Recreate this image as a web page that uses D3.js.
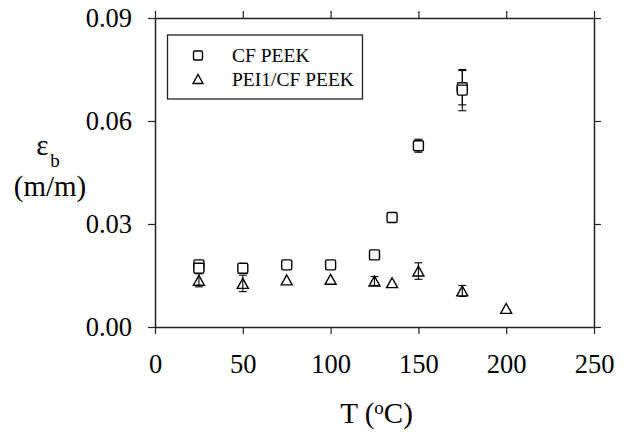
<!DOCTYPE html>
<html>
<head>
<meta charset="utf-8">
<script src="https://cdn.jsdelivr.net/npm/d3@7"></script>
<style>
  body { margin: 0; background: #fff; }
</style>
</head>
<body>
<div id="chart"></div>
<script>
// CF PEEK (squares)
const tempCF = [25, 25, 50, 75, 100, 125, 135, 150, 175, 175];
const strainCF = [0.0181, 0.0171, 0.0171, 0.0181, 0.0181, 0.0210, 0.0319, 0.0528, 0.0697, 0.0690];
const errCF = [0, 0, 0, 0, 0, 0, 0, 0.0019, 0.0050, 0.0060];

// PEI1/CF PEEK (triangles)
const tempPEI = [25, 50, 75, 100, 125, 135, 150, 175, 200];
const strainPEI = [0.0136, 0.0127, 0.0137, 0.0139, 0.0134, 0.0129, 0.0163, 0.0105, 0.0054];
const errPEI = [0.0019, 0.0024, 0, 0, 0.0013, 0, 0.0024, 0.0016, 0];

const xTicks = [0, 50, 100, 150, 200, 250];
const yTicks = [0, 0.03, 0.06, 0.09];
const seriesNames = ['CF PEEK', 'PEI1/CF PEEK'];

const W = 624, H = 433;
const margin = {left: 155, right: 30, top: 18, bottom: 106};
const serif = '"Liberation Serif", "Times New Roman", Times, serif';

const svg = d3.select('#chart').append('svg')
    .attr('width', W)
    .attr('height', H)
    .attr('font-family', serif);

const x = d3.scaleLinear().domain([0, 250]).range([margin.left, W - margin.right]);
const y = d3.scaleLinear().domain([0, 0.09]).range([H - margin.bottom, margin.top]);

const frameColor = '#222';

function styleAxis(g) {
  g.attr('font-family', serif);
  g.selectAll('path.domain').attr('stroke', frameColor).attr('stroke-width', 1.5);
  g.selectAll('.tick line').attr('stroke', frameColor).attr('stroke-width', 1.2);
  g.selectAll('text').attr('fill', '#000').style('font-size', '26.5px');
}

// bottom axis with labels
svg.append('g')
    .attr('transform', 'translate(0,' + y(0) + ')')
    .call(d3.axisBottom(x).tickValues(xTicks).tickSize(7).tickSizeOuter(0).tickPadding(20))
    .call(styleAxis);

// top axis, ticks only
svg.append('g')
    .attr('transform', 'translate(0,' + y(0.09) + ')')
    .call(d3.axisTop(x).tickValues(xTicks).tickSize(7).tickSizeOuter(0).tickFormat(''))
    .call(styleAxis);

// left axis with labels
svg.append('g')
    .attr('transform', 'translate(' + x(0) + ',0)')
    .call(d3.axisLeft(y).tickValues(yTicks).tickSize(7).tickSizeOuter(0).tickPadding(16)
        .tickFormat(d3.format('.2f')))
    .call(styleAxis);

// right axis, ticks only
svg.append('g')
    .attr('transform', 'translate(' + x(250) + ',0)')
    .call(d3.axisRight(y).tickValues(yTicks).tickSize(7).tickSizeOuter(0).tickFormat(''))
    .call(styleAxis);

// error bars
function errorBars(temps, vals, errs) {
  const capW = 4;
  const g = svg.append('g').attr('stroke', '#000').attr('stroke-width', 1.1).attr('fill', 'none');
  temps.forEach((t, i) => {
    if (!errs[i]) return;
    const cx = x(t);
    const y1 = y(vals[i] + errs[i]);
    const y2 = y(vals[i] - errs[i]);
    g.append('line').attr('x1', cx).attr('x2', cx).attr('y1', y1).attr('y2', y2);
    g.append('line').attr('x1', cx - capW).attr('x2', cx + capW).attr('y1', y1).attr('y2', y1);
    g.append('line').attr('x1', cx - capW).attr('x2', cx + capW).attr('y1', y2).attr('y2', y2);
  });
}
errorBars(tempCF, strainCF, errCF);
errorBars(tempPEI, strainPEI, errPEI);

// markers
function squareAt(g, cx, cy, s) {
  g.append('rect')
      .attr('x', cx - s / 2).attr('y', cy - s / 2)
      .attr('width', s).attr('height', s)
      .attr('rx', 1.5)
      .attr('fill', '#fff').attr('stroke', '#000').attr('stroke-width', 1.4);
}
function triangleAt(g, cx, cy, s) {
  const h = s * 0.9;
  const pts = [[cx, cy - h / 2], [cx + s / 2, cy + h / 2], [cx - s / 2, cy + h / 2]];
  g.append('path')
      .attr('d', 'M' + pts.join('L') + 'Z')
      .attr('fill', 'none').attr('stroke', '#000').attr('stroke-width', 1.4);
}

const marks = svg.append('g');
tempCF.forEach((t, i) => squareAt(marks, x(t), y(strainCF[i]), 10));
tempPEI.forEach((t, i) => triangleAt(marks, x(t), y(strainPEI[i]), 11));

// legend
const legend = svg.append('g');
legend.append('rect')
    .attr('x', 167.5).attr('y', 35)
    .attr('width', 195).attr('height', 64)
    .attr('fill', 'none').attr('stroke', frameColor).attr('stroke-width', 1.3);
squareAt(legend, 198, 55.5, 9);
triangleAt(legend, 198, 79, 10);
legend.selectAll('text.lg').data(seriesNames).enter().append('text')
    .attr('class', 'lg')
    .attr('x', 232)
    .attr('y', (d, i) => 62 + i * 24)
    .style('font-size', '19.5px')
    .text((d) => d);

// axis titles
const xt = svg.append('text')
    .attr('x', (x(0) + x(250)) / 2 + 2)
    .attr('y', 423)
    .attr('text-anchor', 'middle')
    .style('font-size', '29px');
xt.append('tspan').text('T (');
xt.append('tspan').text('o').style('font-size', '19px').attr('dy', -9);
xt.append('tspan').text('C)').attr('dy', 9);

const eps = svg.append('text')
    .attr('x', 48)
    .attr('y', 155)
    .attr('text-anchor', 'middle')
    .style('font-size', '29px');
eps.append('tspan').text('\u03b5');
eps.append('tspan').text('b').style('font-size', '19px').attr('dx', 2).attr('dy', 12);

svg.append('text')
    .attr('x', 50)
    .attr('y', 196)
    .attr('text-anchor', 'middle')
    .style('font-size', '29px')
    .text('(m/m)');

svg.selectAll('text').style('font-family', serif);
</script>
</body>
</html>
